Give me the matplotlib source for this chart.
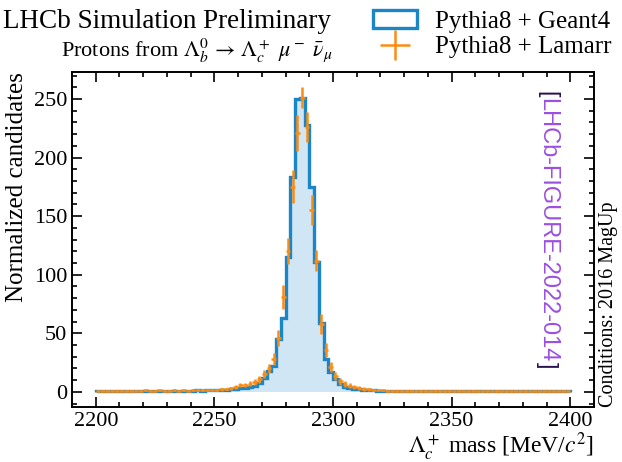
import numpy as np
import matplotlib
matplotlib.use("Agg")
import matplotlib.pyplot as plt
from matplotlib.patches import Patch
from matplotlib.lines import Line2D

plt.rcParams['font.family'] = ['Liberation Serif', 'DejaVu Serif']
plt.rcParams['mathtext.fontset'] = 'stix'

# ---- data ----
mass_lo, mass_hi, n_bins = 2200, 2400, 100

geant4 = [0.6, 0.7, 0.5, 0.8, 0.6, 0.7, 0.9, 0.6, 0.8, 0.7, 0.9, 0.8, 0.7, 1.0, 0.8,
          0.9, 1.0, 0.8, 1.1, 0.9, 1.0, 1.2, 1.1, 1.3, 1.2,
          1.4, 1.6, 1.9, 2.2, 2.6, 3.0, 3.5, 4.2, 5.2, 7.5,
          12, 18, 22, 45, 63, 115, 183, 250, 251, 228, 175, 111, 59, 28, 17,
          10.5, 6.5, 4.5, 3.2, 2.6, 2.1, 1.8, 1.5, 1.3, 1.0,
          0.9, 0.8, 0.8, 0.7, 0.8, 0.7, 0.6, 0.7, 0.8, 0.6, 0.7, 0.6, 0.7, 0.6, 0.5,
          0.6, 0.7, 0.5, 0.6, 0.6, 0.5, 0.6, 0.5, 0.6, 0.5, 0.5, 0.6, 0.5, 0.4, 0.5,
          0.5, 0.4, 0.5, 0.5, 0.4, 0.5, 0.4, 0.5, 0.4, 0.4]

lamarr = [0.8, 0.9, 0.7, 1.0, 0.8, 0.9, 1.1, 0.8, 1.0, 0.9, 1.2, 1.0, 0.9, 1.2, 1.0,
          1.1, 1.3, 1.0, 1.2, 1.1, 1.3, 1.5, 1.4, 1.6, 1.5,
          1.8, 2.0, 2.5, 3.2, 4.2, 5.5, 6.0, 7.0, 8.5, 10.5,
          15, 20, 28, 46, 81, 120, 175, 221, 251, 226, 155, 112, 58, 36, 21,
          13.5, 9.0, 6.5, 5.0, 4.0, 3.0, 2.4, 2.0, 1.6, 1.3,
          1.2, 1.0, 0.9, 0.9, 0.8, 0.7, 0.8, 0.6, 0.7, 0.6, 0.5, 0.7, 0.6, 0.5, 0.6,
          0.5, 0.6, 0.5, 0.4, 0.6, 0.5, 0.4, 0.5, 0.4, 0.6, 0.5, 0.4, 0.5, 0.4, 0.5,
          0.3, 0.4, 0.5, 0.4, 0.3, 0.4, 0.5, 0.4, 0.3, 0.4]

lamarr_err = [0.6, 0.6, 0.6, 0.7, 0.6, 0.6, 0.7, 0.6, 0.7, 0.6, 0.7, 0.7, 0.6, 0.7, 0.7,
              0.7, 0.8, 0.7, 0.7, 0.7, 0.8, 0.8, 0.8, 0.8, 0.8,
              0.9, 1.0, 1.1, 1.3, 1.5, 1.7, 1.8, 2.0, 2.3, 2.6,
              3.2, 3.8, 5.0, 7.0, 10.5, 11, 14, 15, 9, 13, 13, 9, 8.5, 6, 4.5,
              3.5, 2.8, 2.4, 2.1, 1.8, 1.6, 1.4, 1.3, 1.1, 1.0,
              0.9, 0.9, 0.8, 0.8, 0.8, 0.7, 0.8, 0.7, 0.7, 0.7, 0.6, 0.7, 0.7, 0.6, 0.7,
              0.6, 0.7, 0.6, 0.6, 0.7, 0.6, 0.6, 0.6, 0.6, 0.7, 0.6, 0.6, 0.6, 0.6, 0.6,
              0.5, 0.6, 0.6, 0.6, 0.5, 0.6, 0.6, 0.6, 0.5, 0.6]

x_ticks = [2200, 2250, 2300, 2350, 2400]
y_ticks = [0, 50, 100, 150, 200, 250]

edges = np.linspace(mass_lo, mass_hi, n_bins + 1)
centers = 0.5 * (edges[1:] + edges[:-1])
half_w = 0.5 * (edges[1:] - edges[:-1])

blue = "#1a86c8"
orange = "#fa8c14"

fig = plt.figure(figsize=(6.22, 4.62), dpi=100)
ax = fig.add_axes([0.1158, 0.119, 0.955 - 0.1158, 0.844 - 0.119])

ax.stairs(geant4, edges, fill=True, color=blue, alpha=0.2, linewidth=0)
ax.stairs(geant4, edges, fill=False, color=blue, linewidth=2.4)
ax.errorbar(centers, lamarr, yerr=lamarr_err, xerr=half_w, fmt='none',
            ecolor=orange, elinewidth=1.8, capsize=0, zorder=3)

ax.set_xlim(2190, 2410)
ax.set_ylim(-13, 273)
ax.set_xticks(x_ticks)
ax.set_yticks(y_ticks)
ax.xaxis.set_minor_locator(matplotlib.ticker.MultipleLocator(10))
ax.yaxis.set_minor_locator(matplotlib.ticker.MultipleLocator(10))
ax.tick_params(which='both', direction='in', top=True, right=True, labelsize=16, width=1.2)
ax.tick_params(which='major', length=7)
ax.tick_params(which='minor', length=3.6)
for s in ax.spines.values():
    s.set_linewidth(1.4)

ax.set_xlabel(r"$\Lambda_c^+$ mass [MeV/$c^2$]", fontsize=17, loc='right', labelpad=0)
ax.set_ylabel("Normalized candidates", fontsize=18, loc='top', labelpad=4)

fig.text(0.532, 1 - 22 / 462, "LHCb Simulation Preliminary", fontsize=19.5,
         ha='right', va='center')
fig.text(0.536, 1 - 50 / 462,
         r"Protons from $\Lambda_b^0\,\rightarrow\,\Lambda_c^+\ \mu^-\ \bar{\nu}_\mu$",
         fontsize=16, ha='right', va='center')

handles = [Patch(facecolor='white', edgecolor=blue, linewidth=2.4),
           Line2D([], [], color=orange, marker='+', markersize=22, markeredgewidth=1.8,
                  linestyle='none')]
fig.legend(handles, ["Pythia8 + Geant4", "Pythia8 + Lamarr"], loc='upper right',
           bbox_to_anchor=(1.008, 1.01), frameon=False, fontsize=18, handlelength=1.75,
           handletextpad=0.75, labelspacing=0.12, borderaxespad=0.2)

purple = "#9b4fe0"
txt = ax.text(0.91, 0.528, "LHCb-FIGURE-2022-014", transform=ax.transAxes,
              rotation=270, fontsize=17, color=purple,
              family=['Liberation Sans', 'DejaVu Sans'], ha='center', va='center')
fig.canvas.draw()
bb = txt.get_window_extent(fig.canvas.get_renderer())
xc = 0.5 * (bb.x0 + bb.x1)
fig.text(xc, bb.y1, "[", transform=None, rotation=270, fontsize=17, color="#2a1450",
         family=['Liberation Sans', 'DejaVu Sans'], ha='center', va='bottom')
fig.text(xc, bb.y0, "]", transform=None, rotation=270, fontsize=17, color="#2a1450",
         family=['Liberation Sans', 'DejaVu Sans'], ha='center', va='top')

fig.text(0.978, 0.119, "Conditions: 2016 MagUp", rotation=90, fontsize=14.5,
         ha='center', va='bottom')

fig.savefig("out.png", dpi=100)
